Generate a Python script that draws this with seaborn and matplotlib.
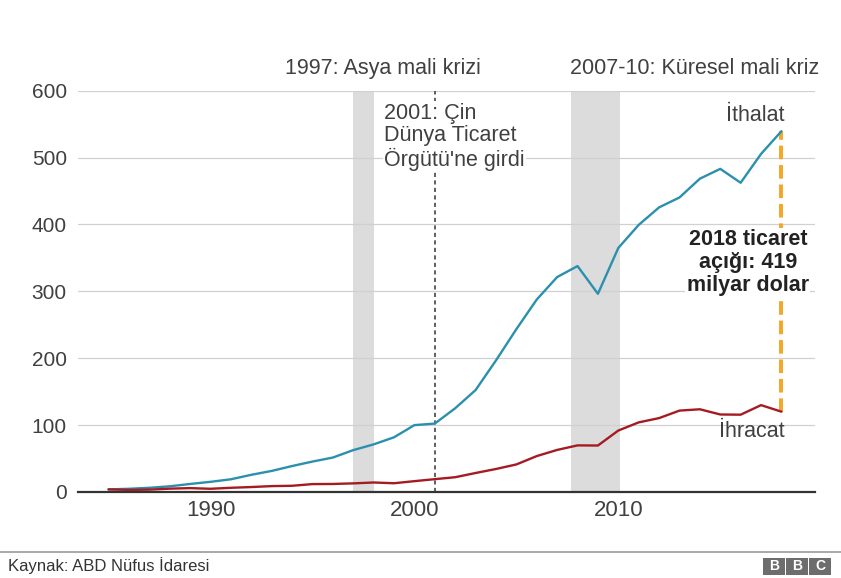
import matplotlib
matplotlib.use("Agg")
import matplotlib.pyplot as plt
import seaborn as sns
import pandas as pd
from matplotlib.patches import Rectangle

years = list(range(1985, 2019))
imports = [3.9, 4.8, 6.3, 8.5, 12.0, 15.2, 19.0, 25.7, 31.5, 38.8, 45.5, 51.5,
           62.6, 71.2, 81.8, 100.0, 102.3, 125.2, 152.4, 196.7, 243.5, 287.8,
           321.4, 337.8, 296.4, 364.9, 399.4, 425.6, 440.4, 468.5, 483.2, 462.4,
           505.5, 539.5]
exports = [3.9, 3.1, 3.5, 5.0, 5.8, 4.8, 6.3, 7.4, 8.8, 9.3, 11.8, 12.0,
           12.9, 14.2, 13.1, 16.2, 19.2, 22.1, 28.4, 34.4, 41.2, 53.7,
           62.9, 69.7, 69.5, 91.9, 104.1, 110.5, 121.7, 123.7, 115.9, 115.6,
           129.9, 120.1]
series_names = ["İthalat", "İhracat"]
y_ticks = [0, 100, 200, 300, 400, 500, 600]
x_ticks = [1990, 2000, 2010]

df = pd.DataFrame({
    "Yıl": years * 2,
    "Değer": imports + exports,
    "Seri": [series_names[0]] * len(years) + [series_names[1]] * len(years),
})

sns.set_style("white")
plt.rcParams["font.family"] = ["Liberation Sans", "DejaVu Sans"]

TXT = "#404040"
fig = plt.figure(figsize=(8.41, 5.78), dpi=100)
ax = fig.add_axes([0.0927, 0.1488, 0.876, 0.6942])

# shaded crisis periods
ax.axvspan(1997.0, 1998.0, color="#dcdcdc", zorder=0, lw=0)
ax.axvspan(2007.7, 2010.1, color="#dcdcdc", zorder=0, lw=0)

sns.lineplot(data=df, x="Yıl", y="Değer", hue="Seri",
             palette={"İthalat": "#2b90ad", "İhracat": "#a51b22"},
             linewidth=1.7, legend=False, ax=ax, zorder=3)

ax.set_xlim(1983.5, 2019.63)
ax.set_ylim(0, 600)
ax.set_yticks(y_ticks)
ax.set_xticks(x_ticks)
ax.set_yticklabels([str(v) for v in y_ticks], fontsize=15, color=TXT)
ax.set_xticklabels([str(v) for v in x_ticks], fontsize=16, color=TXT)
ax.tick_params(axis="y", length=0, pad=8)
ax.tick_params(axis="x", length=0, pad=6)
ax.grid(axis="y", color="#d0d0d0", lw=0.9, zorder=1)
for s in ["top", "right", "left"]:
    ax.spines[s].set_visible(False)
ax.spines["bottom"].set_color("#333333")
ax.spines["bottom"].set_linewidth(1.6)
ax.set_xlabel("")
ax.set_ylabel("")

# 2001 WTO dashed line
ax.axvline(2001, ymin=0, ymax=1, color="#444444", ls=(0, (2.5, 2)), lw=1.2, zorder=2)
ax.text(1998.5, 582, "2001: Çin\nDünya Ticaret\nÖrgütü'ne girdi", ha="left", va="top",
        fontsize=15.5, color=TXT, linespacing=1.08, zorder=4,
        bbox=dict(facecolor="white", edgecolor="none", pad=1))

# crisis labels above plot
ax.text(1998.45, 618, "1997: Asya mali krizi", ha="center", va="bottom",
        fontsize=15.5, color=TXT, clip_on=False)
ax.text(2019.87, 618, "2007-10: Küresel mali kriz", ha="right", va="bottom",
        fontsize=15.5, color=TXT, clip_on=False)

# trade gap line
ax.plot([2018, 2018], [exports[-1], imports[-1]], color="#f5a623", lw=2.8,
        ls=(0, (3.5, 1.5)), zorder=2)
ax.text(2016.35, 343, "2018 ticaret\naçığı: 419\nmilyar dolar", ha="center", va="center",
        fontsize=15.5, fontweight="bold", color="#222222", linespacing=1.12, zorder=5,
        bbox=dict(facecolor="white", edgecolor="none", pad=1))

# series labels
ax.text(2018.15, 548, "İthalat", ha="right", va="bottom", fontsize=15.5, color=TXT)
ax.text(2018.15, 91, "İhracat", ha="right", va="center", fontsize=15.5, color=TXT)

# footer
fig.add_artist(plt.Line2D([0.0, 1.0], [1 - 552 / 578, 1 - 552 / 578],
                          color="#999999", lw=1.2, transform=fig.transFigure))
fig.text(8 / 841, 1 - 566 / 578, "Kaynak: ABD Nüfus İdaresi", fontsize=12,
         color="#333333", va="center", ha="left")
for i, letter in enumerate("BBC"):
    x0 = (763 + i * 23) / 841
    fig.add_artist(Rectangle((x0, 1 - 575 / 578), 22 / 841, 17 / 578,
                             transform=fig.transFigure, facecolor="#6d6d6d",
                             edgecolor="none"))
    fig.text(x0 + 11 / 841, 1 - 566.5 / 578, letter, fontsize=10, fontweight="bold",
             color="white", ha="center", va="center")

fig.savefig("out.png", dpi=100, facecolor="white")
